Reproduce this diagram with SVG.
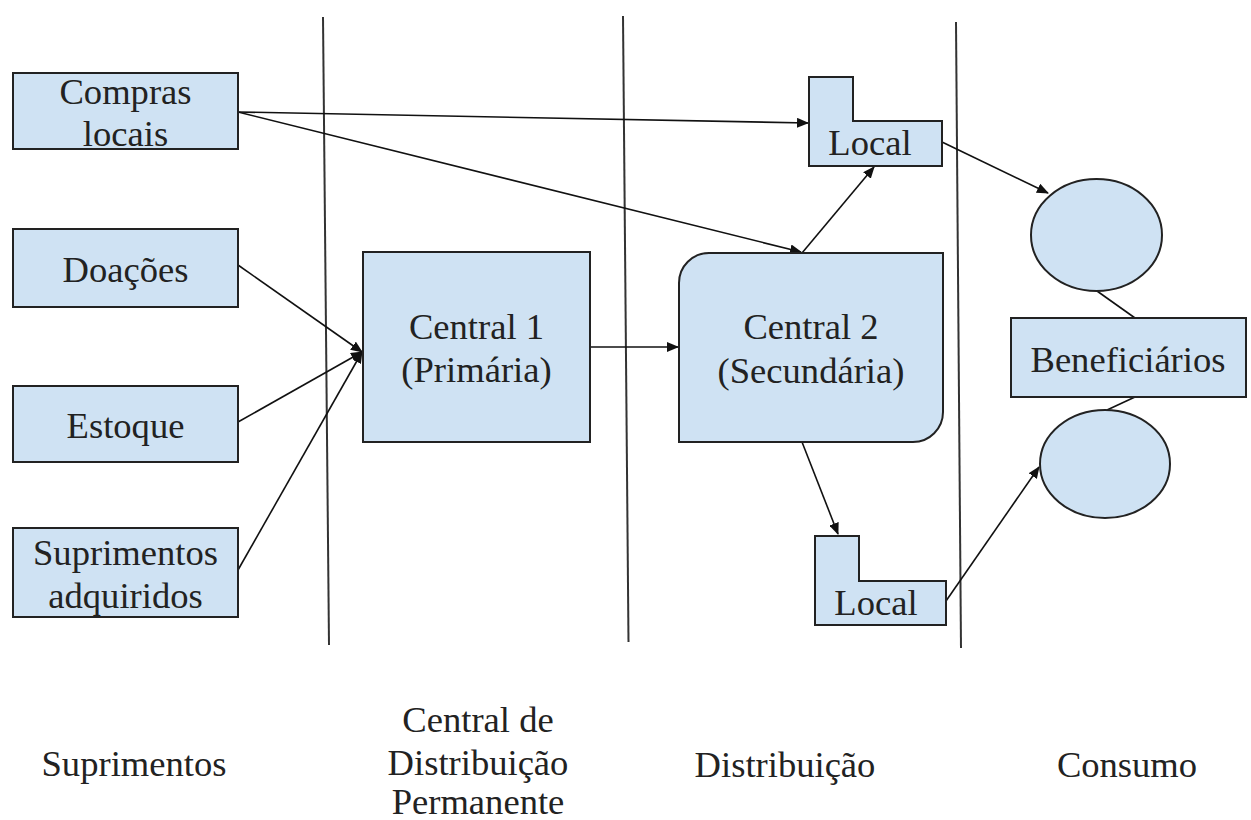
<svg xmlns="http://www.w3.org/2000/svg" width="1251" height="820" viewBox="0 0 1251 820">
<style>
.n{fill:#cfe2f3;stroke:#222;stroke-width:2}
.t{font-family:'Liberation Serif','DejaVu Serif',serif;font-size:36.6px;fill:#222;text-anchor:middle}
.c{stroke:#111;stroke-width:1.6;fill:none}
.a{marker-end:url(#ah)}
.v{stroke:#333;stroke-width:2;fill:none}
</style>
<defs>
<marker id="ah" markerWidth="12" markerHeight="10" refX="11" refY="5" orient="auto" markerUnits="userSpaceOnUse">
<path d="M0,0 L12,5 L0,10 Z" fill="#111"/>
</marker>
</defs>
<rect width="1251" height="820" fill="#fff"/>
<g id="lanes">
<line class="v" x1="323" y1="17" x2="329" y2="645"/>
<line class="v" x1="623" y1="16" x2="628.5" y2="642"/>
<line class="v" x1="956" y1="22" x2="961" y2="648"/>
</g>
<g id="connectors">
<line class="c a" x1="238" y1="112" x2="808" y2="123"/>
<line class="c a" x1="238" y1="112" x2="801" y2="252"/>
<line class="c a" x1="238" y1="265" x2="362" y2="352"/>
<line class="c a" x1="238" y1="422" x2="362" y2="352"/>
<line class="c a" x1="238" y1="570" x2="362" y2="352"/>
<line class="c a" x1="590" y1="347" x2="678" y2="347"/>
<line class="c a" x1="802" y1="253" x2="874" y2="167"/>
<line class="c a" x1="802" y1="442" x2="838" y2="534"/>
<line class="c a" x1="942" y1="142" x2="1048" y2="193"/>
<line class="c a" x1="946" y1="601" x2="1039" y2="467"/>
<line class="c" x1="1097" y1="291" x2="1135" y2="318"/>
<line class="c" x1="1135" y1="397" x2="1107" y2="410"/>
</g>
<g id="compras">
<rect class="n" x="13" y="73" width="225" height="76"/>
<text class="t" x="125.5" y="104">Compras</text>
<text class="t" x="125.5" y="146">locais</text>
</g>
<g id="doacoes">
<rect class="n" x="13" y="229" width="225" height="78"/>
<text class="t" x="125.5" y="282">Doações</text>
</g>
<g id="estoque">
<rect class="n" x="13" y="386" width="225" height="76"/>
<text class="t" x="125.5" y="438">Estoque</text>
</g>
<g id="suprimentos">
<rect class="n" x="13" y="528" width="225" height="89"/>
<text class="t" x="125.5" y="565">Suprimentos</text>
<text class="t" x="125.5" y="608">adquiridos</text>
</g>
<g id="central1">
<rect class="n" x="363" y="252" width="227" height="190"/>
<text class="t" x="476.5" y="339">Central 1</text>
<text class="t" x="476.5" y="382">(Primária)</text>
</g>
<g id="central2">
<path class="n" d="M709,253 H943 V412 A30,30 0 0 1 913,442 H679 V283 A30,30 0 0 1 709,253 Z"/>
<text class="t" x="811" y="339">Central 2</text>
<text class="t" x="811" y="383">(Secundária)</text>
</g>
<g id="local1">
<path class="n" d="M809,77 H853 V121 H942 V166 H809 Z"/>
<text class="t" x="870" y="155">Local</text>
</g>
<g id="local2">
<path class="n" d="M815,536 H859 V581 H946 V625 H815 Z"/>
<text class="t" x="876" y="615">Local</text>
</g>
<g id="cons1">
<ellipse class="n" cx="1096.5" cy="235" rx="65.5" ry="56"/>
</g>
<g id="beneficiarios">
<rect class="n" x="1011" y="318" width="235" height="79"/>
<text class="t" x="1128" y="372">Beneficiários</text>
</g>
<g id="cons2">
<ellipse class="n" cx="1105" cy="464" rx="65" ry="54"/>
</g>
<g id="labels">
<text class="t" x="134" y="776">Suprimentos</text>
<text class="t" x="478" y="732">Central de</text>
<text class="t" x="478" y="775">Distribuição</text>
<text class="t" x="478" y="814">Permanente</text>
<text class="t" x="785" y="777">Distribuição</text>
<text class="t" x="1127" y="777">Consumo</text>
</g>
</svg>
